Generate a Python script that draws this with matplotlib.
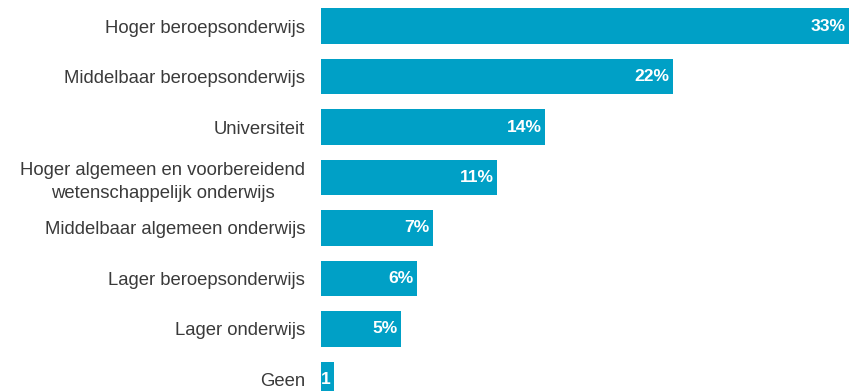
import matplotlib.pyplot as plt

categories = [
    "Hoger beroepsonderwijs",
    "Middelbaar beroepsonderwijs",
    "Universiteit",
    "Hoger algemeen en voorbereidend\nwetenschappelijk onderwijs",
    "Middelbaar algemeen onderwijs",
    "Lager beroepsonderwijs",
    "Lager onderwijs",
    "Geen",
]
values = [33, 22, 14, 11, 7, 6, 5, 0.8]
value_labels = ["33%", "22%", "14%", "11%", "7%", "6%", "5%", "1"]

bar_color = "#00a0c6"
text_color = "#3a3a3a"

plt.rcParams["font.family"] = ["Liberation Sans", "DejaVu Sans"]

fig = plt.figure(figsize=(8.5, 3.91), dpi=100)
ax = fig.add_axes([321 / 850, 0, 528 / 850, 1])

ypos = list(range(len(categories)))
ax.barh(ypos, values, height=0.71, color=bar_color)

ax.set_xlim(0, 33)
ax.set_ylim(7.228, -0.515)

ax.set_yticks(ypos)
ax.set_yticklabels(categories, fontsize=13.3, color=text_color, linespacing=1.4)
for lbl in ax.get_yticklabels():
    lbl.set_horizontalalignment("right")
    lbl.set_multialignment("center")
ax.tick_params(axis="y", length=0, pad=11.5)
ax.set_xticks([])

for s in ax.spines.values():
    s.set_visible(False)

# value labels inside the bar ends
for y, v, t in zip(ypos, values, value_labels):
    ax.annotate(t, xy=(v, y), xytext=(-2.5, 0), textcoords="offset points",
                ha="right", va="center", color="white",
                fontsize=12.6, fontweight="bold")

fig.savefig("out.png", dpi=100)
